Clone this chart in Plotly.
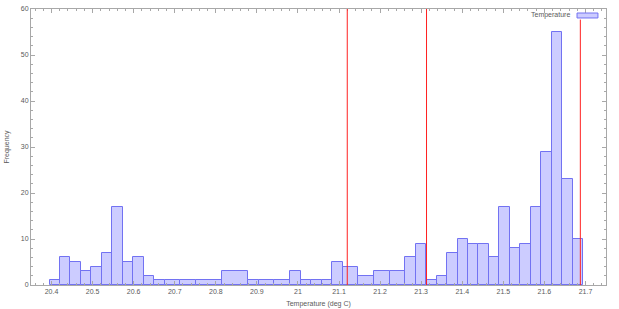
import numpy as np
import plotly.graph_objects as go

# Histogram data (bin centres in deg C, frequencies)
bin_centers = [20.408, 20.433, 20.459, 20.484, 20.510, 20.535, 20.561, 20.586,
               20.612, 20.637, 20.663, 20.688, 20.739, 20.765, 20.866, 20.892,
               20.917, 20.968, 20.994, 21.019, 21.045, 21.070, 21.096, 21.121,
               21.172, 21.198, 21.249, 21.274, 21.300, 21.325, 21.351, 21.376,
               21.402, 21.427, 21.452, 21.478, 21.503, 21.529, 21.554, 21.580,
               21.605, 21.631, 21.656, 21.682]
counts = [1, 6, 5, 3, 4, 7, 17, 5,
          6, 2, 1, 1, 1, 1, 3, 1,
          1, 1, 3, 1, 1, 1, 5, 4,
          2, 3, 3, 6, 9, 1, 2, 7,
          10, 9, 9, 6, 17, 8, 9, 17,
          29, 55, 23, 10]

# Vertical reference lines (deg C) and their top values
ref_lines = [21.120, 21.313, 21.6875]
ref_tops = [60, 60, 57.7]

x_ticks = [20.4, 20.5, 20.6, 20.7, 20.8, 20.9, 21.0, 21.1, 21.2, 21.3, 21.4, 21.5, 21.6, 21.7]
y_ticks = [0, 10, 20, 30, 40, 50, 60]

# boxes extend half-way to neighbouring points (gnuplot "boxes" style)
c = np.array(bin_centers)
mids = (c[1:] + c[:-1]) / 2
left = np.concatenate([[c[0] - (mids[0] - c[0])], mids])
right = np.concatenate([mids, [c[-1] + (c[-1] - mids[-1])]])
bx = (left + right) / 2
bw = right - left

AX = "#a8a8a8"
TXT = "#5a5a5a"
FONT = "Liberation Sans"

fig = go.Figure()
fig.add_trace(go.Bar(
    x=bx, y=counts, width=bw, name="Temperature",
    marker=dict(color="#ccccff", line=dict(color="#7272f2", width=1)),
    showlegend=False,
))

for xv, top in zip(ref_lines, ref_tops):
    fig.add_shape(type="line", x0=xv, x1=xv, y0=0, y1=top, xref="x", yref="y",
                  line=dict(color="#ff2020", width=1))

# legend (text left of sample, gnuplot style)
fig.add_annotation(text="Temperature", xref="paper", yref="paper", x=0.94, y=0.978,
                   xanchor="right", yanchor="middle", showarrow=False,
                   font=dict(family=FONT, size=7, color=TXT))
fig.add_shape(type="rect", xref="paper", yref="paper", x0=0.9496, x1=0.986,
              y0=0.9675, y1=0.9855, fillcolor="#ccccff",
              line=dict(color="#7272f2", width=1))

axis_common = dict(
    showline=True, linecolor=AX, linewidth=1, mirror="allticks",
    ticks="inside", ticklen=4, tickcolor=AX, tickwidth=1,
    showgrid=False, zeroline=False, automargin=False,
    tickfont=dict(family=FONT, size=7, color=TXT),
)

fig.update_xaxes(
    range=[20.35, 21.75], tickvals=x_ticks,
    ticktext=[("%g" % v) for v in x_ticks],
    minor=dict(dtick=0.02, tick0=20.4, ticks="inside", ticklen=2, tickcolor=AX, showgrid=False),
    title=dict(text="Temperature (deg C)", font=dict(family=FONT, size=7, color=TXT), standoff=6),
    **axis_common,
)
fig.update_yaxes(
    range=[0, 60], tickvals=y_ticks,
    minor=dict(dtick=2, ticks="inside", ticklen=2, tickcolor=AX, showgrid=False),
    title=dict(text="Frequency", font=dict(family=FONT, size=7, color=TXT), standoff=10),
    **axis_common,
)

fig.update_layout(
    width=619, height=309,
    margin=dict(l=31, r=13, t=9, b=24, autoexpand=False),
    paper_bgcolor="white", plot_bgcolor="white",
    bargap=0, showlegend=False,
)

fig.write_html("out.html")
